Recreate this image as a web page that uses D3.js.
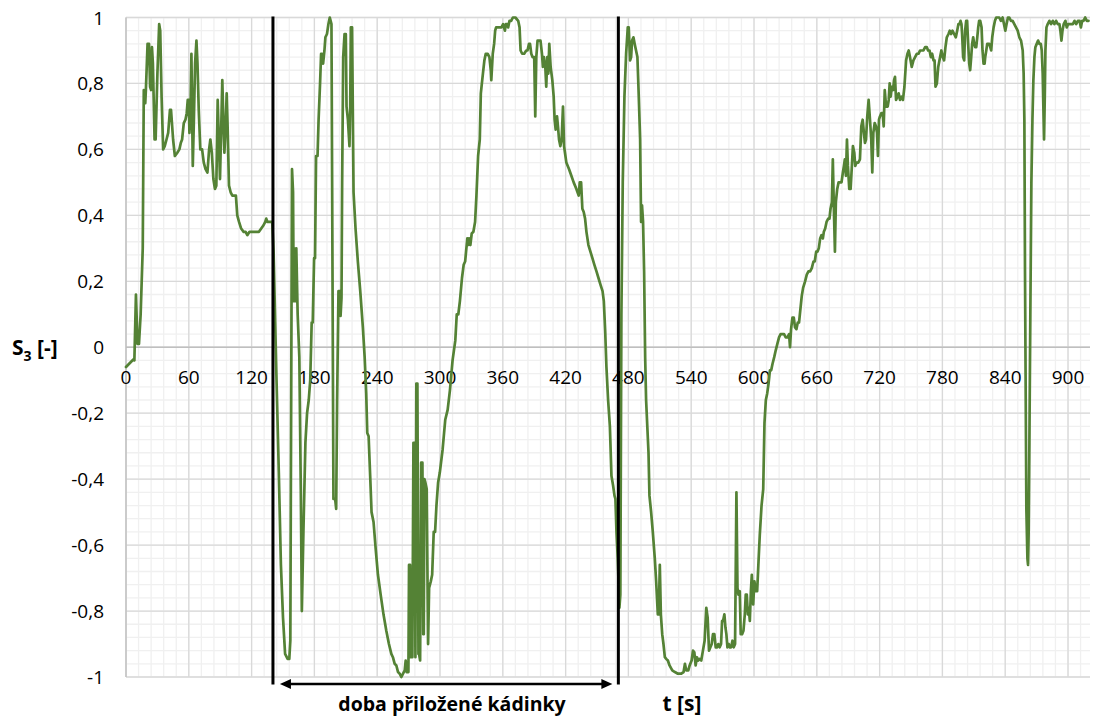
<!DOCTYPE html>
<html><head><meta charset="utf-8">
<script src="https://cdn.jsdelivr.net/npm/d3@7"></script>
<style>
html,body{margin:0;padding:0;background:#fff;}
svg{display:block;}
</style></head>
<body>
<svg id="chart" width="1094" height="722"></svg>
<script>
// ---- data ----
const tValues = [0,7,8,9.5,11,12.4,14,16,17,18.4,19,20.6,22,23,24,24.8,25.7,27.3,28.3,30,31.7,32.7,34,35.5,37,38.7,40.3,42,43,45,46.7,49,51,52.4,53.6,55.2,56.8,58,59,60,60.6,61.6,62.5,63.8,64.8,66,67.3,68.3,69.5,71,72.7,74.3,76,77.8,79.4,80.6,82,83.5,85,86.3,87.6,88.6,89.8,91,92,93,94,95.2,96.2,97,98.4,100,101.6,103,105,106.3,108,110,112.4,114.3,115.9,118,121,124.4,127,129.2,131.4,133,134,135.2,137.8,139.7,
141,143.5,146,148,150,152,154.4,156,157,158.6,159.6,160.2,161,162,162.7,164,165.6,167,168,169.5,171.4,173,174.6,176,177.4,178.4,179.7,180.6,181.6,183,184,185.4,186.4,187.3,188.3,189.6,190.5,192,193.4,194.7,196.3,198.2,199.8,200.8,201.7,203,204.3,205,205.9,206.5,207.5,208.8,210,210.7,212,213.5,214.2,214.8,216,217.4,219.3,221.5,223.8,226.3,228,229.5,230.5,231.8,233.4,234.6,236.5,238.5,240.7,243.3,246,248.7,251.2,253.5,255,256.7,258.3,259.9,261.5,263,264.7,266.3,267.2,268.2,269.8,270.4,271.4,272,273.6,274.6,275.9,276.5,277.4,278.4,279.4,280,281,282,283.2,284,284.5,285.1,286,287.3,288.6,289.6,291.2,292.5,294,295.3,296.6,298.2,
299.8,302.5,305,307.3,309.5,312,314.6,316,317.5,319,321,322.6,324,324.9,326.1,326.8,327.7,329,330.3,331.9,333.5,334.8,336.4,338,339,340,341,342.4,343.7,345.6,347.2,348.5,349,350.4,351.7,352.7,353.6,355.5,357.4,358.7,360.3,362,362.9,364.2,365.1,366.4,368,369.6,372,374.7,376,377,378.5,380.4,382.4,383.6,385,386,387.2,388.4,390,391,392,393.2,394.8,396,397.4,398.3,399.3,400.6,401.5,402.5,403.5,404.4,405.7,407.3,408.6,409.5,410.5,411.8,412.7,413.7,415,416.2,417.5,418.5,419.4,420.7,423.3,425.5,427.7,430.3,432.5,433.5,434.8,436,437.3,438.6,439.9,441.8,443.7,445.6,447.5,449.5,451.4,453.3,455.3,456.5,457.8,459,460.6,462.3,463.8,465.4,466.7,467.6,468.6,
469.8,471.4,472.3,473.3,474.6,476.2,477.8,479.4,480.3,481.6,482.6,483.5,484.8,486,487.3,488.6,489.9,491.2,492.1,493,494,495,496,496.9,497.9,499.2,500.1,501.7,503.3,505.2,506.5,508.1,509,510,511,512.3,513.5,514.8,516.1,517.7,519.3,521.9,524.4,527.3,530.5,532.7,534,535.3,537.2,538.5,540.4,541.7,543,544.2,545.5,546.8,548,549.6,551.2,552.8,554.4,555.7,557,558.3,559.6,560.8,562.1,563.4,564.7,565.9,567.2,568.5,569.5,570.4,571.7,572.7,573.6,574.6,575.8,576.8,578.1,579.4,580.6,581.9,583.2,584.2,585.1,586.4,587.3,588.6,589.9,591.2,592.1,593.1,594.1,595,596,597,597.9,599.2,600.4,601.7,603,604.3,605.5,607.2,608.8,610,611.3,612.6,613.9,615.2,616.4,617.7,619.3,620.7,622.3,623.9,
625.4,627,628.7,630.3,631.9,633.5,634.4,635.4,636.7,638,639.2,640.5,641.8,643,644.3,645.6,646.9,648.8,650.4,652,653.6,655.2,656.8,658,659.4,660.6,661.9,663.2,664.5,665.8,666.7,668,669.3,670.9,672.1,673.1,674.4,675.3,676.3,677.3,678.2,679.5,680.8,682,683.6,684.9,685.9,686.8,687.8,688.8,689.7,691,692.3,693.5,694.5,695.8,696.7,698,699.6,701.2,702.5,703.8,705,706,707,708.2,709.5,710.8,712,713,714,715.3,716.5,717.5,718.4,719.4,720.3,721.7,722.9,723.9,724.9,726.2,727.7,728.7,729.6,730.6,731.6,732.8,733.8,734.7,735.7,737,738.2,739.5,741,742.3,743.7,745.3,746.6,747.8,749,750.7,752.3,753.9,755.5,757.1,758.7,760.3,761.9,763.5,765.1,766.3,767.7,768.9,770.2,771.5,772.5,773.4,774.7,776,777.2,
779,780.3,781.6,782.9,784.2,785.8,787,788.3,789.6,791.2,792.8,794.1,795.3,796.3,797.3,798.2,798.8,799.8,800.8,801.7,802.7,803.6,804.6,805.6,806.5,807.5,808.4,809.4,810.4,811.3,812.3,813.3,814.2,815.1,816.1,817.4,818.3,819.3,820.3,820.9,821.9,822.8,823.8,824.7,825.7,826.6,827.6,828.9,830.2,831.4,832.7,834.3,835.9,837.5,838.8,840.1,841.3,842.6,843.9,845.5,847.1,848.7,850.3,851.9,853.5,855.1,856.7,857.6,858.3,858.9,859.6,860.2,861.2,861.8,862.4,863.1,864,865,866,866.9,867.9,868.8,870.1,871.4,872.7,874,874.9,875.8,876.5,877.1,877.8,878.4,879.4,880.6,882.2,883.8,885.4,887,888.6,890.2,891.8,892.7,893.7,894.7,895.9,897.5,898.8,900.1,901.4,903,904.6,906.2,907.8,909.4,911,912.3,913.5,914.8,916.4,918,919.6];

const s3Values = [-0.06,-0.037,-0.04,0.16,0.01,0.01,0.1,0.3,0.78,0.74,0.78,0.92,0.92,0.79,0.78,0.91,0.86,0.63,0.63,0.83,0.98,0.96,0.76,0.6,0.61,0.63,0.65,0.72,0.72,0.63,0.58,0.59,0.6,0.62,0.63,0.68,0.69,0.71,0.75,0.75,0.65,0.71,0.89,0.55,0.68,0.86,0.93,0.86,0.72,0.6,0.6,0.56,0.54,0.53,0.6,0.63,0.59,0.51,0.48,0.49,0.75,0.64,0.51,0.67,0.81,0.69,0.59,0.67,0.77,0.68,0.49,0.47,0.46,0.46,0.46,0.4,0.38,0.36,0.35,0.35,0.34,0.35,0.35,0.35,0.35,0.36,0.37,0.38,0.39,0.38,0.38,0.38,
0.29,-0.06,-0.38,-0.66,-0.82,-0.93,-0.945,-0.945,-0.89,0.54,0.47,0.14,0.3,0.14,0.3,0.1,-0.03,-0.43,-0.8,-0.56,-0.29,-0.2,-0.16,-0.1,0.075,0.075,0.27,0.27,0.58,0.58,0.69,0.8,0.89,0.89,0.86,0.9,0.94,0.95,0.98,1.0,0.98,-0.46,-0.46,-0.49,-0.16,0.17,0.17,0.095,0.15,0.5,0.88,0.95,0.95,0.73,0.69,0.61,0.72,0.97,0.97,0.47,0.36,0.26,0.17,0.06,-0.03,-0.14,-0.26,-0.27,-0.4,-0.5,-0.53,-0.61,-0.69,-0.75,-0.81,-0.86,-0.9,-0.93,-0.94,-0.96,-0.965,-0.985,-0.99,-1.0,-0.99,-0.98,-0.95,-0.985,-0.985,-0.66,-0.66,-0.94,-0.94,-0.29,-0.29,-0.94,-0.11,-0.11,-0.93,-0.93,-0.95,-0.35,-0.35,-0.87,-0.87,-0.4,-0.41,-0.43,-0.9,-0.73,-0.71,-0.69,-0.56,-0.56,-0.48,-0.41,
-0.38,-0.31,-0.22,-0.19,-0.13,-0.04,0.02,0.1,0.1,0.14,0.21,0.25,0.26,0.29,0.33,0.31,0.33,0.31,0.345,0.35,0.38,0.46,0.58,0.63,0.77,0.8,0.83,0.87,0.89,0.89,0.88,0.84,0.81,0.89,0.92,0.96,0.97,0.97,0.97,0.97,0.98,0.96,0.98,0.98,0.97,0.99,0.99,1.0,1.0,0.99,0.97,0.9,0.89,0.89,0.9,0.9,0.92,0.92,0.89,0.88,0.88,0.7,0.88,0.93,0.93,0.93,0.89,0.85,0.88,0.85,0.79,0.88,0.83,0.92,0.85,0.81,0.76,0.69,0.66,0.7,0.67,0.63,0.61,0.63,0.73,0.61,0.59,0.56,0.54,0.52,0.5,0.48,0.46,0.5,0.5,0.42,0.41,0.39,0.35,0.31,0.29,0.27,0.25,0.23,0.21,0.19,0.17,0.14,0.05,-0.06,-0.16,-0.24,-0.39,-0.42,-0.45,-0.46,-0.56,
-0.64,-0.79,-0.75,0.1,0.5,0.76,0.89,0.97,0.97,0.87,0.88,0.93,0.94,0.92,0.9,0.88,0.76,0.63,0.38,0.43,0.38,0.23,-0.03,-0.16,-0.23,-0.32,-0.45,-0.5,-0.56,-0.64,-0.71,-0.81,-0.81,-0.66,-0.81,-0.87,-0.9,-0.94,-0.945,-0.95,-0.965,-0.98,-0.985,-0.99,-0.99,-0.985,-0.96,-0.98,-0.98,-0.965,-0.95,-0.92,-0.925,-0.965,-0.94,-0.95,-0.945,-0.95,-0.92,-0.89,-0.79,-0.82,-0.92,-0.91,-0.9,-0.87,-0.87,-0.91,-0.91,-0.9,-0.91,-0.9,-0.83,-0.83,-0.81,-0.85,-0.87,-0.91,-0.9,-0.91,-0.91,-0.89,-0.91,-0.9,-0.44,-0.73,-0.75,-0.74,-0.87,-0.87,-0.86,-0.81,-0.75,-0.75,-0.81,-0.79,-0.83,-0.74,-0.69,-0.78,-0.71,-0.74,-0.74,-0.65,-0.57,-0.48,-0.43,-0.23,-0.16,-0.14,-0.11,-0.07,-0.07,-0.05,-0.03,-0.01,0.01,0.03,
0.04,0.04,0.04,0.03,0.03,0.04,0.0,0.055,0.09,0.09,0.06,0.055,0.075,0.075,0.115,0.155,0.18,0.2,0.22,0.23,0.23,0.24,0.26,0.26,0.29,0.29,0.3,0.33,0.34,0.33,0.35,0.36,0.38,0.39,0.39,0.42,0.44,0.57,0.42,0.29,0.44,0.48,0.5,0.5,0.5,0.53,0.55,0.57,0.52,0.63,0.55,0.48,0.48,0.55,0.61,0.59,0.55,0.56,0.56,0.57,0.67,0.69,0.65,0.62,0.63,0.7,0.75,0.69,0.63,0.53,0.65,0.68,0.67,0.65,0.58,0.69,0.7,0.71,0.71,0.67,0.78,0.73,0.73,0.75,0.8,0.76,0.79,0.78,0.81,0.82,0.75,0.76,0.77,0.75,0.76,0.75,0.79,0.87,0.89,0.9,0.88,0.85,0.87,0.88,0.89,0.89,0.9,0.9,0.9,0.91,0.91,0.9,0.9,0.88,0.89,0.87,0.87,0.79,0.8,0.85,0.87,
0.9,0.88,0.87,0.91,0.94,0.95,0.96,0.95,0.96,0.95,0.94,0.96,0.98,0.98,0.99,0.98,0.95,0.88,0.87,0.96,0.99,0.99,0.92,0.86,0.84,0.88,0.92,0.94,0.92,0.91,0.91,0.94,0.97,0.99,0.99,0.97,0.9,0.86,0.86,0.88,0.9,0.92,0.92,0.92,0.91,0.9,0.94,0.97,0.99,1.0,1.0,1.0,0.99,1.0,0.98,0.96,0.98,1.0,1.0,0.99,0.99,0.98,0.97,0.96,0.94,0.93,0.9,0.83,0.69,0.23,-0.16,-0.49,-0.64,-0.66,-0.56,-0.29,0.1,0.5,0.69,0.81,0.88,0.91,0.92,0.93,0.92,0.92,0.9,0.83,0.72,0.63,0.76,0.9,0.97,0.98,0.99,0.98,0.99,0.98,0.99,0.98,0.98,0.96,0.93,0.96,0.98,0.99,0.97,0.98,0.98,0.98,0.98,0.99,0.98,0.99,0.99,0.97,0.99,0.99,1.0,0.99,0.99];

const xTicks = [0,60,120,180,240,300,360,420,480,540,600,660,720,780,840,900];
const yTicks = [-1,-0.8,-0.6,-0.4,-0.2,0,0.2,0.4,0.6,0.8,1];
const yTickLabels = ["-1","-0,8","-0,6","-0,4","-0,2","0","0,2","0,4","0,6","0,8","1"];
const beakerMarks = [140.4, 470.4];   // start / end of "doba přiložené kádinky"
const yTitle = "S";
const yTitleSub = "3";
const yTitleRest = " [-]";
const xTitle = "t [s]";
const spanLabel = "doba přiložené kádinky";

// ---- layout ----
const svg = d3.select("#chart");
const x = d3.scaleLinear().domain([0, 921]).range([126, 1090]);
const y = d3.scaleLinear().domain([-1, 1]).range([677, 17.5]);
const [x0, x1] = x.range();
const [yb, yt] = y.range();

const grid = svg.append("g");
// minor grid
const minorX = d3.range(0, 921, 12);
const minorY = d3.range(-1, 1.0001, 0.04);
grid.selectAll(".mx").data(minorX).join("line")
  .attr("x1", d => x(d)).attr("x2", d => x(d)).attr("y1", yt).attr("y2", yb)
  .attr("stroke", "#f0f0f0").attr("stroke-width", 1.3);
grid.selectAll(".my").data(minorY).join("line")
  .attr("x1", x0).attr("x2", x1).attr("y1", d => y(d)).attr("y2", d => y(d))
  .attr("stroke", "#f0f0f0").attr("stroke-width", 1.3);
// major grid
grid.selectAll(".Mx").data(xTicks).join("line")
  .attr("x1", d => x(d)).attr("x2", d => x(d)).attr("y1", yt).attr("y2", yb)
  .attr("stroke", "#d9d9d9").attr("stroke-width", 1.3);
grid.selectAll(".My").data(yTicks).join("line")
  .attr("x1", x0).attr("x2", x1).attr("y1", d => y(d)).attr("y2", d => y(d))
  .attr("stroke", "#d9d9d9").attr("stroke-width", 1.3);
// axis lines
grid.append("line").attr("x1", x0).attr("x2", x1).attr("y1", y(0)).attr("y2", y(0))
  .attr("stroke", "#bfbfbf").attr("stroke-width", 1.3);
grid.append("line").attr("x1", x0).attr("x2", x0).attr("y1", yt).attr("y2", yb)
  .attr("stroke", "#bfbfbf").attr("stroke-width", 1.3);

// tick labels
const font = "'Open Sans', 'Liberation Sans', sans-serif";
svg.append("g").selectAll("text").data(xTicks).join("text")
  .attr("x", d => x(d)).attr("y", y(0) + 37)
  .attr("text-anchor", "middle").attr("font-family", font).attr("font-size", 19)
  .attr("fill", "#000").text(d => d);
svg.append("g").selectAll("text").data(yTicks).join("text")
  .attr("x", 104).attr("y", d => y(d) + 7)
  .attr("text-anchor", "end").attr("font-family", font).attr("font-size", 19)
  .attr("fill", "#000").text((d, i) => yTickLabels[i]);

// data line
const pts = tValues.map((t, i) => [t, s3Values[i]]);
svg.append("path").datum(pts)
  .attr("fill", "none").attr("stroke", "#548235").attr("stroke-width", 2.7)
  .attr("stroke-linejoin", "round").attr("stroke-linecap", "round")
  .attr("d", d3.line().x(d => x(d[0])).y(d => y(d[1])));

// beaker markers
svg.append("g").selectAll("line").data(beakerMarks).join("line")
  .attr("x1", d => x(d)).attr("x2", d => x(d)).attr("y1", 16.5).attr("y2", 684.5)
  .attr("stroke", "#000").attr("stroke-width", 3);

// arrow
const ay = 684;
const ax0 = x(beakerMarks[0]) + 7, ax1 = x(beakerMarks[1]) - 6;
svg.append("line").attr("x1", ax0 + 6).attr("x2", ax1 - 6).attr("y1", ay).attr("y2", ay)
  .attr("stroke", "#000").attr("stroke-width", 2.5);
svg.append("path").attr("d", `M${ax0},${ay} L${ax0 + 11},${ay - 5} L${ax0 + 11},${ay + 5} Z`).attr("fill", "#000");
svg.append("path").attr("d", `M${ax1},${ay} L${ax1 - 11},${ay - 5} L${ax1 - 11},${ay + 5} Z`).attr("fill", "#000");

// titles
const yt_ = svg.append("text").attr("x", 12).attr("y", 355)
  .attr("font-family", font).attr("font-size", 21).attr("font-weight", "bold").attr("fill", "#000");
yt_.append("tspan").text(yTitle);
yt_.append("tspan").attr("font-size", 14).attr("dy", 6).text(yTitleSub);
yt_.append("tspan").attr("dy", -6).text(yTitleRest);

svg.append("text").attr("x", 452).attr("y", 711).attr("text-anchor", "middle")
  .attr("font-family", font).attr("font-size", 19.5).attr("font-weight", "bold")
  .attr("fill", "#000").text(spanLabel);
svg.append("text").attr("x", 682).attr("y", 711).attr("text-anchor", "middle")
  .attr("font-family", font).attr("font-size", 21).attr("font-weight", "bold")
  .attr("fill", "#000").text(xTitle);
</script>
</body></html>
